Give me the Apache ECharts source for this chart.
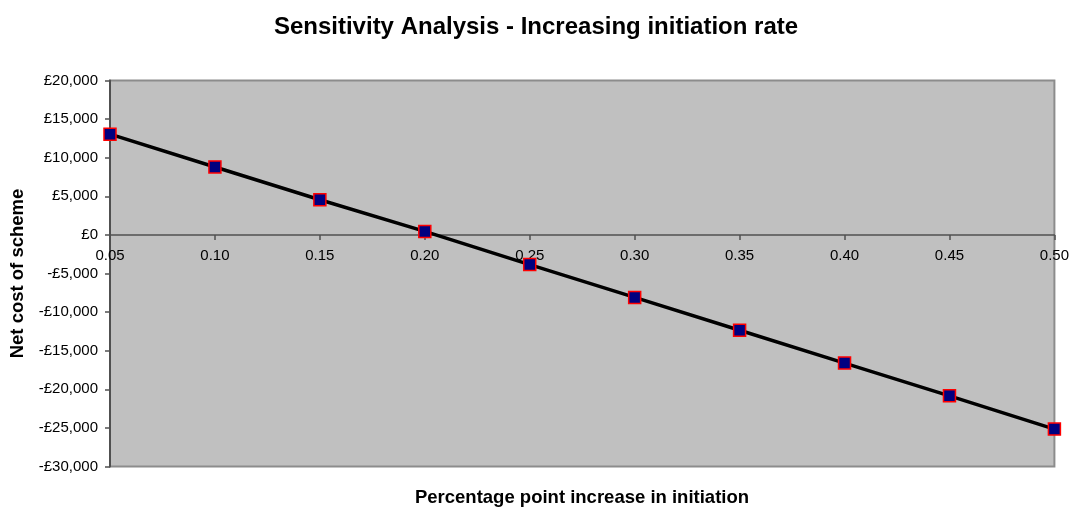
<!DOCTYPE html>
<html>
<head>
<meta charset="utf-8">
<script src="https://cdn.jsdelivr.net/npm/echarts@6/dist/echarts.min.js"></script>
<style>
html,body{margin:0;padding:0;background:#fff;}
#chart{width:1072px;height:507px;}
</style>
</head>
<body>
<div id="chart"></div>
<script>
const titleText = 'Sensitivity Analysis - Increasing initiation rate';
const xAxisTitle = 'Percentage point increase in initiation';
const yAxisTitle = 'Net cost of scheme';
const categories = ['0.05','0.10','0.15','0.20','0.25','0.30','0.35','0.40','0.45','0.50'];
const netCost = [13050, 8800, 4550, 450, -3850, -8100, -12350, -16600, -20850, -25150];
const yMin = -30000, yMax = 20000, yStep = 5000;

const FONT = 'Arial, "Liberation Sans", sans-serif';
function fmtPound(v){
  const s = Math.abs(v).toFixed(0).replace(/\B(?=(\d{3})+(?!\d))/g, ',');
  return (v < 0 ? '-£' : '£') + s;
}

const chart = echarts.init(document.getElementById('chart'), null, {renderer:'canvas'});
chart.setOption({
  animation:false,
  backgroundColor:'#ffffff',
  title:{
    text:titleText, left:'center', top:10,
    textStyle:{fontFamily:FONT, fontSize:24, fontWeight:'bold', color:'#000'}
  },
  grid:{
    left:110, right:17, top:80.5, bottom:40.5,
    show:true, backgroundColor:'#c0c0c0', borderColor:'#8c8c8c', borderWidth:2
  },
  xAxis:{
    type:'category', data:categories, boundaryGap:false,
    axisLine:{onZero:false, lineStyle:{color:'#505050', width:1.5}},
    axisTick:{show:true, inside:false, length:5, lineStyle:{color:'#505050', width:1.5}},
    axisLabel:{color:'#000', fontFamily:FONT, fontSize:15, margin:13},
    splitLine:{show:false}
  },
  yAxis:{
    type:'value', min:yMin, max:yMax, interval:yStep,
    name:yAxisTitle, nameLocation:'middle', nameRotate:90, nameGap:82,
    nameTextStyle:{fontFamily:FONT, fontSize:18.5, fontWeight:'bold', color:'#000'},
    axisLine:{show:true, lineStyle:{color:'#505050', width:2}},
    axisTick:{show:true, length:5, lineStyle:{color:'#505050', width:1.5}},
    axisLabel:{color:'#000', fontFamily:FONT, fontSize:15, margin:12, formatter:fmtPound},
    splitLine:{show:false}
  },
  graphic:[{
    type:'text', x:582, y:488,
    style:{text:xAxisTitle, font:'bold 18.5px ' + FONT, fill:'#000', textAlign:'center', textVerticalAlign:'top'}
  }],
  series:[{
    type:'line', data:netCost,
    lineStyle:{color:'#000', width:3.5},
    symbol:'rect', symbolSize:12,
    itemStyle:{color:'#000080', borderColor:'#ff0000', borderWidth:1.5},
    z:3
  }]
});
// move the x axis (line, ticks and labels) to the zero value of the y scale
const zeroY = chart.convertToPixel({yAxisIndex:0}, 0);
const bottomY = chart.convertToPixel({yAxisIndex:0}, yMin);
chart.setOption({xAxis:{offset: zeroY - bottomY}});
</script>
</body>
</html>
